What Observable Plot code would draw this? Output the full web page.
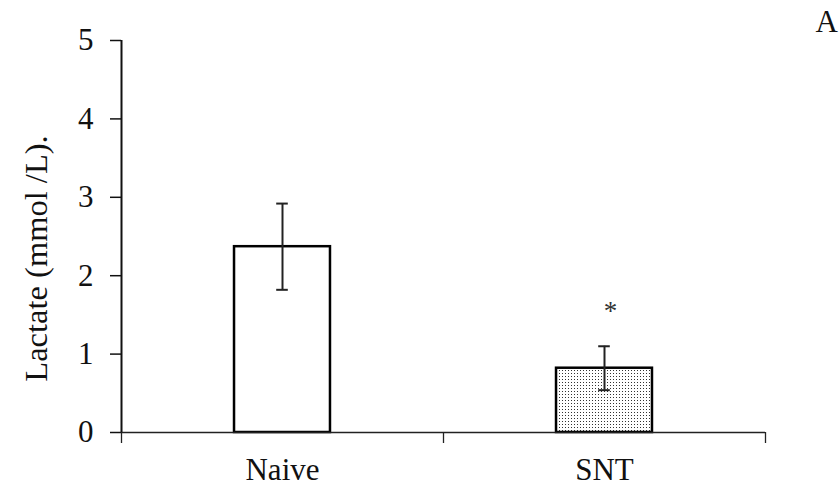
<!DOCTYPE html>
<html>
<head>
<meta charset="utf-8">
<script src="https://cdn.jsdelivr.net/npm/d3@7"></script>
<script src="https://cdn.jsdelivr.net/npm/@observablehq/plot@0.6"></script>
<style>
  body { margin: 0; background: #fff; }
  #chart svg { display: block; }
</style>
</head>
<body>
<svg width="0" height="0" style="position:absolute">
  <defs>
    <pattern id="dots" width="3" height="3" patternUnits="userSpaceOnUse">
      <rect width="3" height="3" fill="#ffffff"></rect>
      <rect x="1" y="1" width="1" height="1" fill="#333"></rect>
    </pattern>
  </defs>
</svg>
<div id="chart"></div>
<script>
const categories = ["Naive", "SNT"];
const means = [2.37, 0.82];
const errors = [0.55, 0.28];
const significance = ["", "*"];
const yTicks = [0, 1, 2, 3, 4, 5];
const yLabel = "Lactate (mmol /L).";
const panelLabel = "A";

const data = categories.map((c, i) => ({
  i, category: c, mean: means[i], err: errors[i], sig: significance[i]
}));

const halfBar = 0.149;
const halfCap = 0.018;
const font = "'Liberation Serif', 'Times New Roman', serif";

const chart = Plot.plot({
  width: 839,
  height: 493,
  marginLeft: 121,
  marginRight: 74,
  marginTop: 40,
  marginBottom: 61,
  style: { fontFamily: font, fontSize: "31px", background: "#fff", color: "#111", overflow: "visible" },
  x: { domain: [0, categories.length], axis: null },
  y: { domain: [0, 5], axis: null },
  marks: [
    // bars
    Plot.rectY(data, {
      filter: d => d.i === 0,
      x1: d => d.i + 0.5 - halfBar, x2: d => d.i + 0.5 + halfBar,
      y1: 0, y2: "mean",
      fill: "#ffffff", stroke: "#000", strokeWidth: 2.5
    }),
    Plot.rectY(data, {
      filter: d => d.i === 1,
      x1: d => d.i + 0.5 - halfBar, x2: d => d.i + 0.5 + halfBar,
      y1: 0, y2: "mean",
      fill: "url(#dots)", stroke: "#000", strokeWidth: 2.5
    }),
    // axes lines
    Plot.ruleY([0], { x1: 0, x2: categories.length, stroke: "#222", strokeWidth: 1.3 }),
    Plot.ruleX([0], { y1: 0, y2: 5, stroke: "#111", strokeWidth: 2 }),
    // y axis ticks and labels
    Plot.axisY({ ticks: yTicks, tickSize: 11, tickPadding: 17, tickFormat: "d", fontSize: 31, stroke: "#111", strokeWidth: 1.5, label: null }),
    // x axis boundary ticks
    Plot.axisX({ ticks: d3.range(categories.length + 1), tickSize: 11, tickFormat: () => "", stroke: "#222", strokeWidth: 1.3, label: null }),
    // x category labels
    Plot.axisX({ ticks: categories.map((c, i) => i + 0.5), tickSize: 0, tickPadding: 25, tickFormat: d => categories[Math.floor(d)], fontSize: 31, label: null }),
    // error bars
    Plot.ruleX(data, { x: d => d.i + 0.5, y1: d => d.mean - d.err, y2: d => d.mean + d.err, stroke: "#222", strokeWidth: 2 }),
    Plot.ruleY(data, { y: d => d.mean + d.err, x1: d => d.i + 0.5 - halfCap, x2: d => d.i + 0.5 + halfCap, stroke: "#222", strokeWidth: 2 }),
    Plot.ruleY(data, { y: d => d.mean - d.err, x1: d => d.i + 0.5 - halfCap, x2: d => d.i + 0.5 + halfCap, stroke: "#222", strokeWidth: 2 }),
    // significance
    Plot.text(data, { x: d => d.i + 0.5, y: d => d.mean + d.err + 0.45, text: "sig", fontSize: 27, dx: 6, fill: "#333" }),
    // y label
    Plot.text([yLabel], { frameAnchor: "left", textAnchor: "middle", lineAnchor: "middle", rotate: -90, dx: -85, dy: 22, fontSize: 32.5, text: d => d, fill: "#111" }),
    // panel label
    Plot.text([panelLabel], { frameAnchor: "top-right", textAnchor: "start", lineAnchor: "top", dx: 50, dy: -31, fontSize: 31, text: d => d, fill: "#111" })
  ]
});
document.getElementById("chart").appendChild(chart);
</script>
</body>
</html>
